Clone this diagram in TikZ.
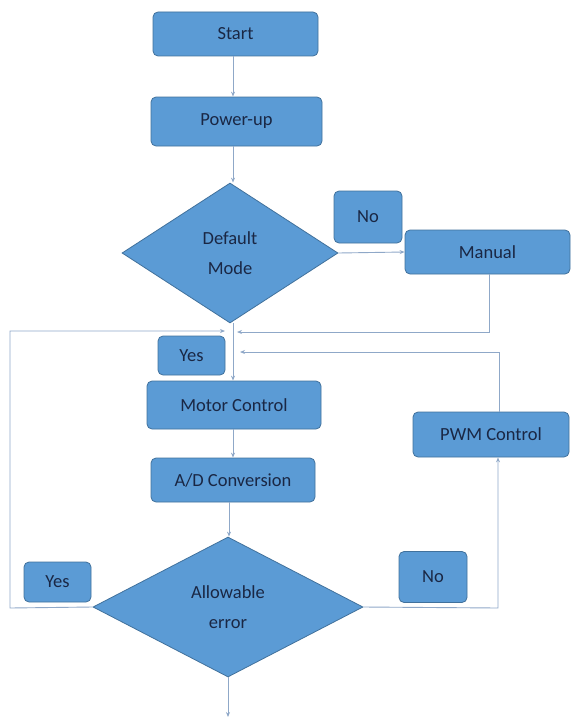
\documentclass[tikz,border=0pt]{standalone}
\usepackage{fontspec}
\setmainfont{Carlito}
\usetikzlibrary{shapes.geometric,arrows.meta}
\definecolor{boxfill}{HTML}{5B9BD5}
\definecolor{boxdraw}{HTML}{41719C}
\definecolor{txt}{HTML}{1A2744}
\definecolor{wire}{HTML}{8FA8C8}
\tikzset{
  base/.style={fill=boxfill,draw=boxdraw,line width=0.8pt,text=txt,font=\fontsize{18.5}{22}\selectfont,inner sep=0pt},
  box/.style={base,rounded corners=5pt},
  dia/.style={base,diamond,align=center},
  wire/.style={draw=wire,line width=0.9pt},
  arr/.style={wire,-{Stealth[length=5pt,width=4pt]}}
}
\begin{document}
\begin{tikzpicture}[x=1pt,y=-1pt]
\useasboundingbox (0,0) rectangle (571,717);
\node[box,minimum width=165pt,minimum height=44pt] (start) at (235.5,34) {Start};
\node[box,minimum width=171pt,minimum height=49pt] (power) at (236.5,121.5) {Power-up};
\node[dia,minimum width=216pt,minimum height=140pt] (dmode) at (230,253) {Default\\[8pt]Mode};
\node[box,minimum width=68pt,minimum height=52pt] (no1) at (368,217) {No};
\node[box,minimum width=165pt,minimum height=44pt] (manual) at (487.5,252) {Manual};
\node[box,minimum width=67pt,minimum height=39pt] (yes1) at (191.5,355.5) {Yes};
\node[box,minimum width=174pt,minimum height=48pt] (motor) at (234,405) {Motor Control};
\node[box,minimum width=164pt,minimum height=44pt] (ad) at (233,480) {A/D Conversion};
\node[box,minimum width=156pt,minimum height=45pt] (pwm) at (491,434.5) {PWM Control};
\node[dia,minimum width=270pt,minimum height=140pt] (err) at (228,607) {Allowable\\[8pt]error};
\node[box,minimum width=67pt,minimum height=40pt] (yes2) at (57.5,582) {Yes};
\node[box,minimum width=68pt,minimum height=51pt] (no2) at (433,577) {No};
\coordinate (endp) at (228,717);
\coordinate (m1) at (489,332);
\coordinate (m2) at (237,332);
\coordinate (l1) at (10,608);
\coordinate (l2) at (10,331);
\coordinate (l3) at (225,331);
\coordinate (p1) at (499,352);
\coordinate (p2) at (240,352);
\coordinate (r1) at (498,608);
\draw[arr] (start.south -| 233,0) -- (power.north -| 233,0);
\draw[arr] (power.south -| 233,0) -- (dmode.north -| 233,0);
\draw[arr] (dmode.east) -- (manual.west);
\draw[arr] (dmode.south -| 233,0) -- (motor.north -| 233,0);
\draw[arr] (manual.south -| m1) -- (m1) -- (m2);
\draw[arr] (err.west) -- (l1) -- (l2) -- (l3);
\draw[arr] (pwm.north -| p1) -- (p1) -- (p2);
\draw[arr] (err.east) -- (r1) -- (pwm.south -| r1);
\draw[arr] (motor.south -| 233,0) -- (ad.north -| 233,0);
\draw[arr] (ad.south -| 229,0) -- (err.north -| 229,0);
\draw[arr] (err.south) -- (endp);
\end{tikzpicture}
\end{document}
